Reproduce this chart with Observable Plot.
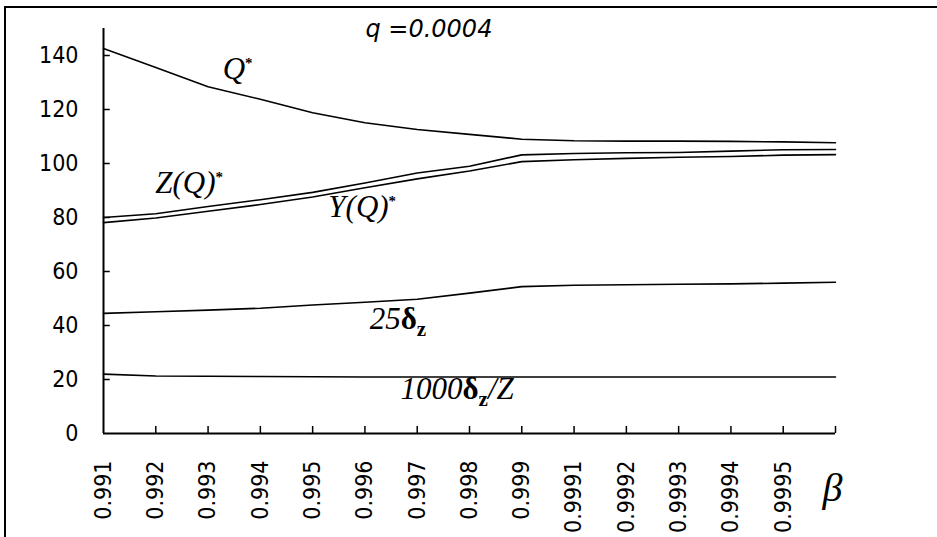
<!DOCTYPE html>
<html>
<head>
<meta charset="utf-8">
<script src="https://cdn.jsdelivr.net/npm/d3@7"></script>
<script src="https://cdn.jsdelivr.net/npm/@observablehq/plot@0.6"></script>
<style>
  html, body { margin: 0; padding: 0; background: #fff; }
  #wrap { position: relative; width: 937px; height: 537px; overflow: hidden; }
  #border { position: absolute; left: 4px; top: 6px; right: -10px; bottom: -10px;
            border-left: 2px solid #000; border-top: 2px solid #000; pointer-events: none; }
</style>
</head>
<body>
<div id="wrap"><div id="border"></div></div>
<script>
// x categories (beta), the last one is unlabeled (beta symbol sits there)
const beta = ["0.991","0.992","0.993","0.994","0.995","0.996","0.997","0.998","0.999",
              "0.9991","0.9992","0.9993","0.9994","0.9995","0.9996"];
const betaLabels = ["0.991","0.992","0.993","0.994","0.995","0.996","0.997","0.998","0.999",
                    "0.9991","0.9992","0.9993","0.9994","0.9995",""];
const yTicks = [0, 20, 40, 60, 80, 100, 120, 140];

// series values
const Qstar   = [142.6, 135.6, 128.4, 123.8, 118.8, 115.1, 112.6, 110.8, 109.0, 108.4, 108.3, 108.3, 108.2, 108.0, 107.7];
const ZQstar  = [80.0, 81.4, 84.1, 86.6, 89.3, 92.8, 96.5, 99.0, 103.2, 103.7, 104.0, 104.1, 104.6, 105.1, 105.2];
const YQstar  = [78.1, 79.8, 82.3, 84.8, 87.6, 91.0, 94.3, 97.2, 100.7, 101.4, 101.9, 102.3, 102.6, 103.1, 103.3];
const d25     = [44.5, 45.1, 45.7, 46.4, 47.6, 48.6, 49.7, 52.0, 54.4, 54.9, 55.1, 55.3, 55.4, 55.7, 56.0];
const d1000   = [22.0, 21.3, 21.2, 21.1, 21.0, 20.9, 20.9, 20.9, 20.9, 20.9, 20.9, 20.9, 20.9, 20.9, 20.9];

// annotation labels (x in category index units, y in value units)
const labels = [
  {x: 2.28, y: 134.8, t: "Q*"},
  {x: 0.99, y: 92.8,  t: "Z(Q)*"},
  {x: 4.30, y: 83.8,  t: "Y(Q)*"},
  {x: 5.09, y: 42.4,  t: "25δz"},
  {x: 5.68, y: 16.4,  t: "1000δz/Z"}
];
const rich = {
  "Q*": '<tspan>Q</tspan><tspan dy="-11" font-size="15" font-style="normal" font-weight="bold">*</tspan>',
  "Z(Q)*": '<tspan>Z(Q)</tspan><tspan dy="-11" font-size="15" font-style="normal" font-weight="bold">*</tspan>',
  "Y(Q)*": '<tspan>Y(Q)</tspan><tspan dy="-11" font-size="15" font-style="normal" font-weight="bold">*</tspan>',
  "25δz": '<tspan>25</tspan><tspan font-weight="bold" font-style="normal">δ</tspan><tspan dy="7" font-size="21" font-weight="bold" font-style="normal">z</tspan>',
  "1000δz/Z": '<tspan>1000</tspan><tspan font-weight="bold" font-style="normal">δ</tspan><tspan dy="7" font-size="21" font-weight="bold" font-style="normal">z</tspan><tspan dy="-7">/Z</tspan>'
};
const title = [{x: 5.01, y: 149.8, t: "q =0.0004"}];
const betaSym = [{x: 13.94, y: -20.1, t: "β"}];

const series = [
  {name: "Q*", v: Qstar},
  {name: "Z(Q)*", v: ZQstar},
  {name: "Y(Q)*", v: YQstar},
  {name: "25δz", v: d25},
  {name: "1000δz/Z", v: d1000}
];
const rows = series.flatMap(s => s.v.map((v, i) => ({s: s.name, i, v})));
const idx = beta.map((_, i) => i);

const chart = Plot.plot({
  width: 937,
  height: 537,
  marginLeft: 103,
  marginRight: 102,
  marginTop: 28,
  marginBottom: 104,
  style: {fontFamily: "'Liberation Sans Narrow', 'DejaVu Sans Condensed', 'Liberation Sans', sans-serif", fontSize: "23px", color: "#000", background: "transparent", overflow: "visible"},
  x: {domain: [0, beta.length - 1], ticks: idx, tickFormat: i => betaLabels[i], tickRotate: -90, tickSize: 0, tickPadding: 27, label: null},
  y: {domain: [0, 150], ticks: yTicks, tickSize: 0, tickPadding: 25, label: null},
  marks: [
    Plot.ruleX([0], {y1: 0, y2: 150, stroke: "#000", strokeWidth: 2}),
    Plot.ruleY([0], {x1: 0, x2: beta.length - 1, stroke: "#000", strokeWidth: 2}),
    Plot.ruleY(yTicks.slice(1), {x1: 0, x2: 0.13, stroke: "#000", strokeWidth: 1.5}),
    Plot.ruleX(idx.slice(1), {y1: 0, y2: 2.6, stroke: "#000", strokeWidth: 1.5}),
    Plot.line(rows, {x: "i", y: "v", z: "s", stroke: "#000", strokeWidth: 1.6}),
    Plot.text(labels, {x: "x", y: "y", text: "t", textAnchor: "start", fontFamily: "'Liberation Serif', 'DejaVu Serif', serif", fontStyle: "italic", fontSize: 31}),
    Plot.text(title, {x: "x", y: "y", text: "t", textAnchor: "start", fontFamily: "'DejaVu Sans', 'Liberation Sans', sans-serif", fontStyle: "italic", fontSize: 24}),
    Plot.text(betaSym, {x: "x", y: "y", text: "t", fontFamily: "'Liberation Serif', 'DejaVu Serif', serif", fontStyle: "italic", fontSize: 40})
  ]
});

d3.select(chart).selectAll("text").each(function() {
  const key = this.textContent;
  if (rich[key]) this.innerHTML = rich[key];
});

document.getElementById("wrap").prepend(chart);
</script>
</body>
</html>
